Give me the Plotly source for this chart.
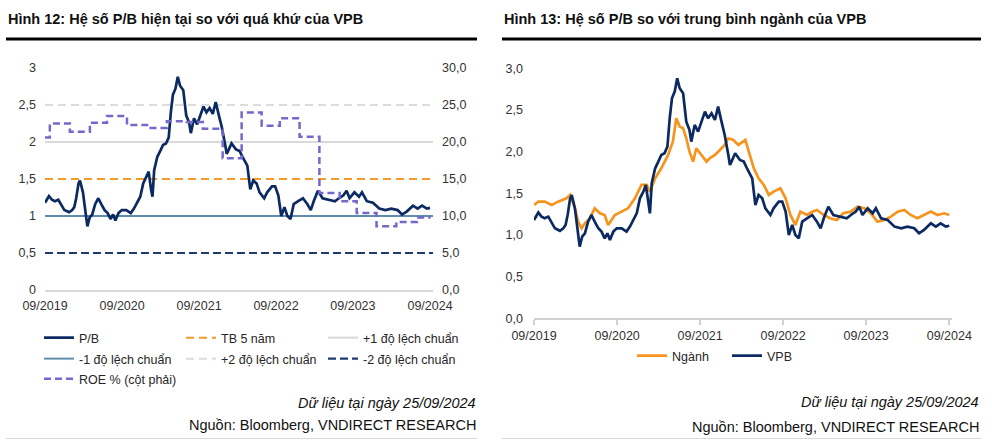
import plotly.graph_objects as go

# ---------------- data ----------------
vpb_dates = [
    "2019-09-25", "2019-10-07", "2019-10-14", "2019-10-28", "2019-11-11", "2019-11-27",
    "2019-12-12", "2019-12-26", "2020-01-17", "2020-02-01", "2020-02-11", "2020-02-20",
    "2020-03-02", "2020-03-09", "2020-03-23", "2020-04-03", "2020-04-13", "2020-04-24",
    "2020-05-06", "2020-05-20", "2020-06-04", "2020-06-18", "2020-07-04", "2020-07-18",
    "2020-08-01", "2020-08-13", "2020-08-24", "2020-09-08", "2020-09-23", "2020-10-15",
    "2020-11-05", "2020-11-20", "2020-12-05", "2020-12-20", "2021-01-03", "2021-01-18",
    "2021-01-29", "2021-02-09", "2021-02-16", "2021-02-24", "2021-03-11", "2021-03-25",
    "2021-04-07", "2021-04-21", "2021-05-04", "2021-05-14", "2021-05-24", "2021-06-05",
    "2021-06-16", "2021-06-27", "2021-07-12", "2021-07-26", "2021-08-09", "2021-08-17",
    "2021-09-01", "2021-09-16", "2021-10-01", "2021-10-16", "2021-10-30", "2021-11-14",
    "2021-11-29", "2021-12-13", "2021-12-28", "2022-01-11", "2022-01-27", "2022-02-03",
    "2022-02-10", "2022-02-26", "2022-03-19", "2022-04-05", "2022-04-19", "2022-05-12",
    "2022-05-26", "2022-06-09", "2022-06-25", "2022-07-09", "2022-07-31", "2022-08-14",
    "2022-09-06", "2022-09-21", "2022-10-06", "2022-10-20", "2022-11-04", "2022-11-18",
    "2022-12-03", "2022-12-18", "2023-01-08", "2023-01-31", "2023-02-21", "2023-03-09",
    "2023-03-23", "2023-04-12", "2023-05-04", "2023-06-02", "2023-07-02", "2023-07-20",
    "2023-08-11", "2023-08-26", "2023-09-09", "2023-10-02", "2023-10-24", "2023-11-07",
    "2023-11-30", "2023-12-29", "2024-01-28", "2024-02-26", "2024-03-25", "2024-04-24",
    "2024-05-15", "2024-06-06", "2024-07-06", "2024-07-28", "2024-08-18", "2024-09-10",
    "2024-09-25",
]
vpb_pb = [
    1.18, 1.24, 1.27, 1.22, 1.20, 1.22,
    1.14, 1.08, 1.05, 1.08, 1.12, 1.24,
    1.44, 1.48, 1.32, 1.08, 0.86, 0.98,
    1.02, 1.16, 1.24, 1.16, 1.08, 1.04,
    0.96, 1.02, 0.94, 1.04, 1.08, 1.08,
    1.04, 1.10, 1.18, 1.26, 1.44, 1.52,
    1.60, 1.36, 1.26, 1.62, 1.80, 1.88,
    1.96, 1.98, 2.06, 2.40, 2.64, 2.72,
    2.88, 2.76, 2.70, 2.36, 2.26, 2.12,
    2.32, 2.24, 2.36, 2.48, 2.40, 2.46,
    2.38, 2.54, 2.36, 2.20, 1.96, 1.84,
    1.88, 1.98, 1.90, 1.88, 1.80, 1.68,
    1.36, 1.48, 1.44, 1.32, 1.24, 1.32,
    1.40, 1.40, 1.28, 1.00, 1.12, 1.00,
    0.96, 1.16, 1.20, 1.24, 1.16, 1.08,
    1.20, 1.34, 1.24, 1.22, 1.20, 1.24,
    1.28, 1.34, 1.24, 1.32, 1.26, 1.32,
    1.20, 1.18, 1.10, 1.08, 1.10, 1.08,
    1.02, 1.06, 1.14, 1.10, 1.14, 1.10,
    1.11,
]

nganh_dates = [
    "2019-09-25", "2019-10-14", "2019-11-11", "2019-12-12", "2020-01-09", "2020-01-25",
    "2020-02-15", "2020-03-02", "2020-03-23", "2020-04-06", "2020-04-21", "2020-05-06",
    "2020-05-28", "2020-06-18", "2020-07-11", "2020-08-01", "2020-08-16", "2020-09-15",
    "2020-10-15", "2020-11-12", "2020-12-12", "2021-01-10", "2021-02-02", "2021-02-16",
    "2021-03-11", "2021-04-07", "2021-05-07", "2021-05-28", "2021-06-12", "2021-06-27",
    "2021-07-12", "2021-07-26", "2021-08-09", "2021-08-25", "2021-09-08", "2021-10-01",
    "2021-10-23", "2021-11-06", "2021-11-29", "2021-12-21", "2022-01-11", "2022-01-27",
    "2022-02-18", "2022-03-12", "2022-04-12", "2022-04-27", "2022-05-19", "2022-06-09",
    "2022-07-02", "2022-07-24", "2022-08-14", "2022-09-13", "2022-10-06", "2022-10-27",
    "2022-11-18", "2022-12-10", "2023-01-08", "2023-01-31", "2023-02-21", "2023-03-23",
    "2023-04-19", "2023-05-19", "2023-06-17", "2023-07-20", "2023-08-18", "2023-09-17",
    "2023-10-16", "2023-11-14", "2023-12-14", "2024-01-12", "2024-02-11", "2024-03-11",
    "2024-04-08", "2024-05-08", "2024-06-06", "2024-07-06", "2024-08-04", "2024-09-02",
    "2024-09-25",
]
nganh_pb = [
    1.36, 1.40, 1.40, 1.36, 1.40, 1.42,
    1.44, 1.48, 1.32, 1.16, 1.08, 1.14,
    1.20, 1.32, 1.26, 1.24, 1.12, 1.24,
    1.28, 1.32, 1.44, 1.60, 1.60, 1.52,
    1.68, 1.80, 1.96, 2.12, 2.40, 2.30,
    2.28, 2.16, 2.00, 1.88, 2.04, 1.96,
    1.88, 1.92, 1.96, 2.02, 2.08, 2.16,
    2.14, 2.08, 2.14, 2.00, 1.80, 1.68,
    1.60, 1.48, 1.52, 1.56, 1.44, 1.24,
    1.12, 1.28, 1.24, 1.28, 1.30, 1.24,
    1.20, 1.18, 1.26, 1.28, 1.34, 1.32,
    1.26, 1.16, 1.18, 1.22, 1.28, 1.30,
    1.24, 1.20, 1.24, 1.28, 1.24, 1.26,
    1.24,
]

roe_dates = [
    "2019-09-25", "2019-10-18", "2020-01-21", "2020-04-25", "2020-07-15", "2020-10-18",
    "2021-01-21", "2021-04-25", "2021-07-28", "2021-10-13", "2022-01-15", "2022-04-15",
    "2022-07-19", "2022-10-13", "2023-01-15", "2023-04-19", "2023-07-24", "2023-10-13",
    "2024-01-15", "2024-04-18", "2024-07-25", "2024-09-28",
]
roe_pct = [
    20.6, 22.5, 21.4, 22.6, 23.5, 22.3,
    21.9, 22.8, 22.7, 21.8, 17.8, 24.0,
    22.2, 23.2, 20.7, 13.1, 12.0, 10.4,
    8.6, 9.2, 9.8, 9.8,
]

ref_labels = ["TB 5 năm", "+1 độ lệch chuẩn", "-1 độ lệch chuẩn", "+2 độ lệch chuẩn", "-2 độ lệch chuẩn"]
ref_levels = [1.5, 2.0, 1.0, 2.5, 0.5]
ref_span = ["2019-09-25", "2024-10-09"]

titles = ["Hình 12: Hệ số P/B hiện tại so với quá khứ của VPB",
          "Hình 13: Hệ số P/B so với trung bình ngành của VPB"]
note_date = "Dữ liệu tại ngày 25/09/2024"
note_src = "Nguồn: Bloomberg, VNDIRECT RESEARCH"

# ---------------- style ----------------
W, H = 992, 440
FONT = "Arial, 'Liberation Sans', sans-serif"
NAVY = "#0c2a62"
ORANGE = "#f7941d"
ref_styles = {
    "TB 5 năm": dict(color="#f39a2b", dash="8px,5px", width=2, legend="legend", rank=2),
    "+1 độ lệch chuẩn": dict(color="#d9d9d9", dash="solid", width=2, legend="legend", rank=3),
    "-1 độ lệch chuẩn": dict(color="#5f8cab", dash="solid", width=2, legend="legend2", rank=1),
    "+2 độ lệch chuẩn": dict(color="#dcdcdc", dash="8px,5px", width=2, legend="legend2", rank=2),
    "-2 độ lệch chuẩn": dict(color="#1f3b70", dash="8px,4px", width=2.2, legend="legend2", rank=3),
}

def px(x):
    return x / W

def py(y):
    return 1 - y / H

fig = go.Figure()

for lab, lev in zip(ref_labels, ref_levels):
    s = ref_styles[lab]
    fig.add_trace(go.Scatter(
        x=ref_span, y=[lev, lev], mode="lines", name=lab,
        line=dict(color=s["color"], dash=s["dash"], width=s["width"]),
        xaxis="x", yaxis="y", legend=s["legend"], legendrank=s["rank"],
        hoverinfo="skip"))

fig.add_trace(go.Scatter(
    x=roe_dates, y=roe_pct, mode="lines", name="ROE % (cột phải)",
    line=dict(color="#7468cc", dash="7px,4px", width=2.5, shape="hv"),
    xaxis="x", yaxis="y2", legend="legend3", legendrank=1))

fig.add_trace(go.Scatter(
    x=vpb_dates, y=vpb_pb, mode="lines", name="P/B",
    line=dict(color=NAVY, width=2.7),
    xaxis="x", yaxis="y", legend="legend", legendrank=1))

fig.add_trace(go.Scatter(
    x=nganh_dates, y=nganh_pb, mode="lines", name="Ngành",
    line=dict(color=ORANGE, width=2.7),
    xaxis="x2", yaxis="y3", legend="legend4", legendrank=1))
fig.add_trace(go.Scatter(
    x=vpb_dates, y=vpb_pb, mode="lines", name="VPB",
    line=dict(color=NAVY, width=2.7),
    xaxis="x2", yaxis="y3", legend="legend4", legendrank=2))

tickfont = dict(family=FONT, size=12.5, color="#333333")
legfont = dict(family=FONT, size=12.5, color="#262626")

def leg(x, y, ew):
    return dict(orientation="h", x=x, y=y, xanchor="left", yanchor="middle",
                font=legfont, entrywidth=ew, entrywidthmode="pixels",
                bgcolor="rgba(0,0,0,0)", traceorder="normal")

fig.update_layout(
    template="none",
    width=W, height=H,
    margin=dict(l=0, r=0, t=0, b=0, pad=0),
    paper_bgcolor="white", plot_bgcolor="white",
    separators=",.",
    font=dict(family=FONT, size=12.5, color="#262626"),
    showlegend=True,
    xaxis=dict(domain=[px(45), px(433)], anchor="y", type="date", automargin=False,
               range=["2019-09-25", "2024-10-09"], tick0="2019-09-25", dtick="M12",
               tickformat="%m/%Y", showgrid=False, zeroline=False,
               showline=True, linecolor="#d9d9d9", linewidth=1.5,
               ticks="", tickfont=tickfont, ticklabelstandoff=3),
    yaxis=dict(domain=[py(290), py(68)], anchor="x", range=[0, 3], dtick=0.5, automargin=False,
               showgrid=False, zeroline=False, showline=False, ticks="",
               tickfont=tickfont, ticklabelstandoff=8),
    yaxis2=dict(overlaying="y", side="right", anchor="x", range=[0, 30], dtick=5, automargin=False,
                tickformat=".1f", showgrid=False, zeroline=False, showline=False,
                ticks="", tickfont=tickfont, ticklabelstandoff=8),
    xaxis2=dict(domain=[px(534), px(952)], anchor="y3", type="date", automargin=False,
                range=["2019-09-25", "2024-10-07"], tick0="2019-09-25", dtick="M12",
                tickformat="%m/%Y", showgrid=False, zeroline=False,
                showline=True, linecolor="#d0d0d0", linewidth=1.5,
                ticks="outside", ticklen=5, tickcolor="#d0d0d0", tickwidth=1.5,
                tickfont=tickfont),
    yaxis3=dict(domain=[py(318.3), py(68.3)], anchor="x2", range=[0, 3], dtick=0.5, automargin=False,
                tickformat=".1f", showgrid=False, zeroline=False, showline=False,
                ticks="", tickfont=tickfont, ticklabelstandoff=10),
    legend=leg(px(39), py(338), 97),
    legend2=leg(px(39), py(359), 97),
    legend3=leg(px(39), py(379), 97),
    legend4=leg(px(632), py(356), 50),
)

anns = []
shapes = []
for tx, x0, x1 in [(titles[0], 6, 477), (titles[1], 502, 981)]:
    anns.append(dict(text="<b>%s</b>" % tx, x=px(x0), y=py(19), xref="paper", yref="paper",
                     xanchor="left", yanchor="middle", showarrow=False,
                     font=dict(family=FONT, size=14.5, color="#111111")))
    shapes.append(dict(type="line", xref="paper", yref="paper", x0=px(x0), x1=px(x1),
                       y0=py(39), y1=py(39), line=dict(color="#000000", width=3)))
    shapes.append(dict(type="line", xref="paper", yref="paper", x0=px(x0), x1=px(x1),
                       y0=py(438.5), y1=py(438.5), line=dict(color="#d9d9d9", width=1)))
for xr, y1, y2 in [(478, 403, 425), (981, 402, 427)]:
    anns.append(dict(text="<i>%s</i>" % note_date, x=px(xr), y=py(y1), xref="paper", yref="paper",
                     xanchor="right", yanchor="middle", showarrow=False,
                     font=dict(family=FONT, size=14.5, color="#111111")))
    anns.append(dict(text=note_src, x=px(xr), y=py(y2), xref="paper", yref="paper",
                     xanchor="right", yanchor="middle", showarrow=False,
                     font=dict(family=FONT, size=14.5, color="#111111")))
fig.update_layout(annotations=anns, shapes=shapes)

fig.write_html("out.html",
               config={"displayModeBar": False},
               post_script="document.body.style.margin='0px';document.body.style.overflow='hidden';")
